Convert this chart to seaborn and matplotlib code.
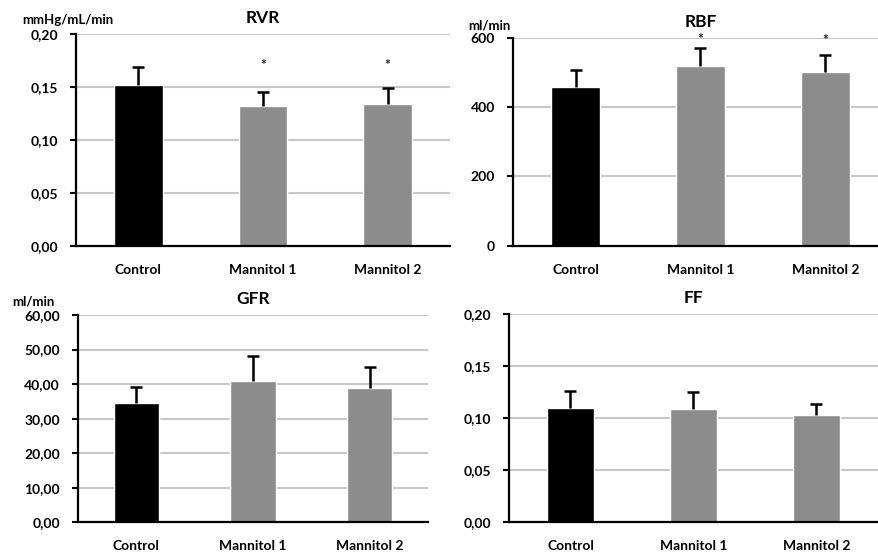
import numpy as np
import pandas as pd
import matplotlib
matplotlib.use("Agg")
import matplotlib.pyplot as plt
import seaborn as sns

groups = ["Control", "Mannitol 1", "Mannitol 2"]
colors = ["#000000", "#8c8c8c", "#8c8c8c"]

rvr = [0.152, 0.132, 0.134]
rvr_err = [0.017, 0.0135, 0.015]
rbf = [459, 519, 502]
rbf_err = [47, 51, 47]
gfr = [34.4, 40.8, 39.0]
gfr_err = [4.8, 7.2, 5.9]
ff = [0.110, 0.109, 0.103]
ff_err = [0.016, 0.016, 0.011]

# significance marks (group index, height)
rvr_sig = [(1, 0.171), (2, 0.171)]
rbf_sig = [(1, 596), (2, 593)]

W, H = 879, 556
sns.set_theme(style="white")
plt.rcParams["font.family"] = ["Lato", "DejaVu Sans"]
plt.rcParams["font.weight"] = "bold"
plt.rcParams["text.color"] = "black"
plt.rcParams["xtick.color"] = "black"
plt.rcParams["ytick.color"] = "black"

fig = plt.figure(figsize=(W / 100, H / 100), dpi=100)


def box(l, r, t, b):
    return [l / W, 1 - b / H, (r - l) / W, (b - t) / H]


panels = [
    # title, values, errors, ylim, yticks, fmt, unit, axes box, unit pos, sig
    ("RVR", rvr, rvr_err, 0.20, np.arange(0, 0.201, 0.05), "{:.2f}", "mmHg/mL/min",
     box(76, 450, 34, 245.7), (22, 20), rvr_sig),
    ("RBF", rbf, rbf_err, 600, np.arange(0, 601, 200), "{:.0f}", "ml/min",
     box(513, 888, 37.7, 245.7), (468, 25), rbf_sig),
    ("GFR", gfr, gfr_err, 60, np.arange(0, 60.1, 10), "{:.2f}", "ml/min",
     box(78, 428, 315, 522.3), (12, 302), []),
    ("FF", ff, ff_err, 0.20, np.arange(0, 0.201, 0.05), "{:.2f}", None,
     box(509, 878, 314, 522.3), None, []),
]

for title, vals, errs, ymax, yt, fmt, unit, rect, upos, sig in panels:
    ax = fig.add_axes(rect)
    df = pd.DataFrame({"group": groups, "value": vals})
    sns.barplot(data=df, x="group", y="value", hue="group", palette=colors,
                legend=False, width=0.39, saturation=1, ax=ax, zorder=3)
    xs = np.arange(len(groups))
    eb = ax.errorbar(xs, vals, yerr=[np.zeros(len(errs)), errs], fmt="none",
                     ecolor="black", elinewidth=1.8, capsize=4.5, capthick=1.8, zorder=4)
    eb[1][0].set_visible(False)  # only the upper cap
    for i, h in sig:
        ax.text(i, h, "*", ha="center", va="center", fontsize=10, color="#222222")
    ax.set_xlim(-0.5, len(groups) - 0.5)
    ax.set_ylim(0, ymax)
    ax.set_yticks(yt)
    ax.set_yticklabels([fmt.format(v).replace(".", ",") for v in yt], fontsize=10)
    ax.set_xticks(xs)
    ax.set_xticklabels(groups, fontsize=10)
    ax.set_xticks(np.arange(len(groups) + 1) - 0.5, minor=True)
    ax.tick_params(axis="x", which="major", length=0, pad=13)
    ax.tick_params(axis="x", which="minor", length=4, width=1.5, direction="out", color="black")
    ax.tick_params(axis="y", length=4, width=1.5, direction="out", color="black", pad=9, left=True)
    ax.yaxis.grid(True, color="#c8c8c8", lw=1.5, zorder=0)
    ax.set_axisbelow(True)
    for s in ["top", "right"]:
        ax.spines[s].set_visible(False)
    for s in ["left", "bottom"]:
        ax.spines[s].set_color("black")
        ax.spines[s].set_linewidth(1.6)
        ax.spines[s].set_zorder(5)
    ax.set_xlabel("")
    ax.set_ylabel("")
    ax.set_title(title, fontsize=12.5, fontweight="bold", pad=8)
    if unit:
        fig.text(upos[0] / W, 1 - upos[1] / H, unit, fontsize=9.5, fontweight="bold",
                 ha="left", va="center")

fig.savefig("out.png", dpi=100)
